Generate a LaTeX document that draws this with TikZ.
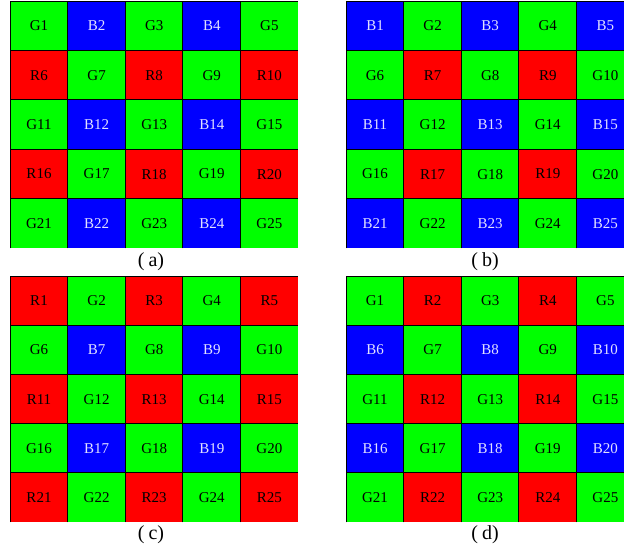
\documentclass[tikz,border=0pt]{standalone}
\usepackage{fontspec}
\setmainfont{Liberation Serif}
\definecolor{bgG}{RGB}{0,255,0}
\definecolor{bgB}{RGB}{0,0,255}
\definecolor{bgR}{RGB}{255,0,0}
\definecolor{txB}{RGB}{225,225,255}
\tikzset{
  cellbase/.style={anchor=north west, inner sep=0pt, minimum width=57.6pt, font=\fontsize{15}{15}\selectfont},
  cellG/.style={cellbase, fill=bgG, text=black},
  cellB/.style={cellbase, fill=bgB, text=txB},
  cellR/.style={cellbase, fill=bgR, text=black},
  gridline/.style={draw=black, line width=0.9pt},
  lab/.style={font=\fontsize{20}{20}\selectfont, inner sep=0pt}
}
% name, x0, y0, cell height, P00, P01, P10, P11
\newcommand{\bayergrid}[8]{%
  \foreach \r in {0,...,4}{%
    \foreach \c in {0,...,4}{%
      \pgfmathsetmacro\n{int(5*\r+\c+1)}%
      \pgfmathsetmacro\k{int(2*mod(\r,2)+mod(\c,2))}%
      \pgfmathsetmacro\px{#2+\c*57.6}%
      \pgfmathsetmacro\py{#3+\r*#4}%
      \ifcase\k \def\L{#5}\or \def\L{#6}\or \def\L{#7}\else \def\L{#8}\fi
      \node[cell\L, minimum height=#4pt] (#1-\n) at (\px,\py) {\L\n};
      \draw[gridline] (#1-\n.south west) -- (#1-\n.north west) -- (#1-\n.north east);
    }%
  }%
}
\begin{document}
\begin{tikzpicture}[x=1pt,y=-1pt]
\useasboundingbox (0,0) rectangle (624,551);
\clip (0,0) rectangle (624,551);
\bayergrid{a}{10}{1}{49.4}{G}{B}{R}{G}
\bayergrid{b}{346}{1}{49.4}{B}{G}{G}{R}
\bayergrid{c}{10}{276}{49.2}{R}{G}{G}{B}
\bayergrid{d}{346}{276}{49.2}{G}{R}{B}{G}
\node[lab] (la) at (151,262) {(\hspace{4pt}a)};
\node[lab] (lb) at (485,262) {(\hspace{4pt}b)};
\node[lab] (lc) at (151,535) {(\hspace{4pt}c)};
\node[lab] (ld) at (485,535) {(\hspace{4pt}d)};
\end{tikzpicture}
\end{document}
